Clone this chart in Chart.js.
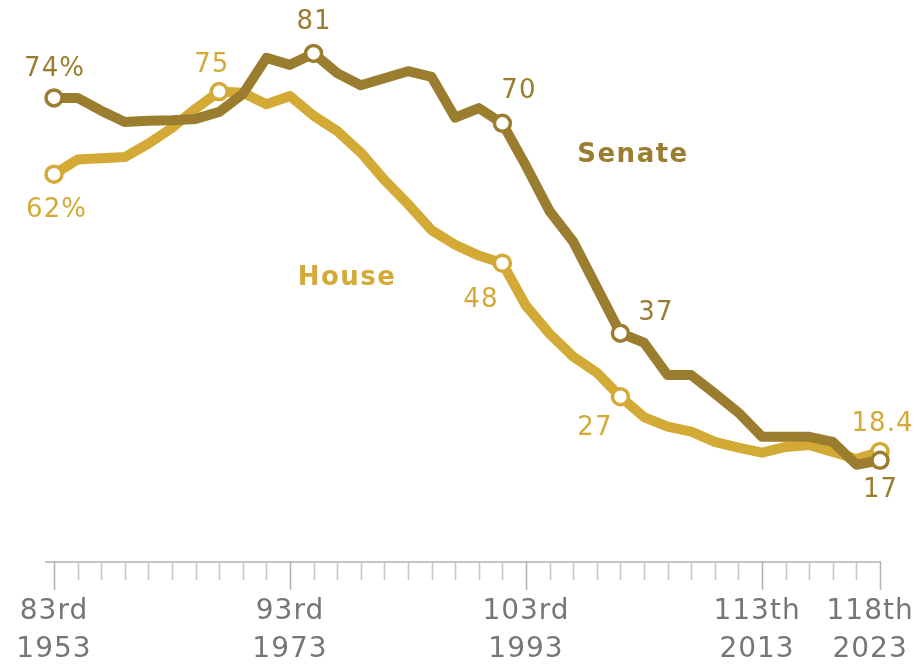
<!DOCTYPE html>
<html>
<head>
<meta charset="utf-8">
<script src="https://cdn.jsdelivr.net/npm/chart.js@4"></script>
<style>
  html, body { margin: 0; padding: 0; background: #ffffff; }
  #wrap { width: 920px; height: 664px; }
</style>
</head>
<body>
<div id="wrap"><canvas id="c" width="920" height="664"></canvas></div>
<script>
// Congress (category) labels and their starting years
const congresses = ['83rd','84th','85th','86th','87th','88th','89th','90th','91st','92nd',
  '93rd','94th','95th','96th','97th','98th','99th','100th','101st','102nd',
  '103rd','104th','105th','106th','107th','108th','109th','110th','111th','112th',
  '113th','114th','115th','116th','117th','118th'];
const years = [1953,1955,1957,1959,1961,1963,1965,1967,1969,1971,
  1973,1975,1977,1979,1981,1983,1985,1987,1989,1991,
  1993,1995,1997,1999,2001,2003,2005,2007,2009,2011,
  2013,2015,2017,2019,2021,2023];

// Series values (%)
const senate = [74, 74, 72, 70.2, 70.4, 70.5, 70.7, 71.8, 74.6, 80.3,
  79.2, 81, 77.9, 76, 77.1, 78.2, 77.3, 70.9, 72.4, 70,
  63.3, 56.2, 51.4, 44.2, 37, 35.5, 30.4, 30.4, 27.5, 24.5,
  20.7, 20.7, 20.7, 19.9, 16.3, 17];
const house = [62, 64.3, 64.5, 64.7, 66.8, 69.3, 72.3, 75, 74.8, 73,
  74.3, 71.2, 68.8, 65.4, 61.1, 57.3, 53.2, 50.9, 49.2, 48,
  41.3, 36.9, 33.3, 30.8, 27, 23.8, 22.3, 21.5, 19.9, 19,
  18.2, 19.1, 19.4, 18.3, 17.2, 18.4];

// Which categories carry an axis label
const labeledTicks = [0, 10, 20, 30, 35];
// Which points are marked and annotated
const senateMarked = [0, 11, 19, 24, 35];
const houseMarked = [0, 7, 19, 24, 35];

const SENATE_COLOR = '#9b7d2f';
const HOUSE_COLOR = '#d4aa36';
const FONT = "'DejaVu Sans', sans-serif";

// label placement relative to point (styling only)
const senateLabelOffsets = {0: [0, -29, '%'], 11: [0, -31, ''], 19: [16, -32, ''], 24: [35, -20, ''], 35: [0, 30, '']};
const houseLabelOffsets = {0: [2, 36, '%'], 7: [-8, -26, ''], 19: [-22, 37, ''], 24: [-26, 32, ''], 35: [2, -27, '']};
// small leftward nudges of crowded axis labels (trailing spaces)
const tickPad = {30: ' ', 35: '  '};

const spacingPlugin = {
  id: 'spacing',
  beforeDraw(chart) { chart.ctx.letterSpacing = '1px'; }
};

const decorPlugin = {
  id: 'decor',
  afterDraw(chart) {
    const ctx = chart.ctx;
    const xs = chart.scales.x;
    const area = chart.chartArea;
    ctx.save();
    // axis line
    ctx.strokeStyle = '#c4c4c4';
    ctx.lineWidth = 2;
    ctx.beginPath();
    ctx.moveTo(area.left - 9, area.bottom);
    ctx.lineTo(area.right + 1, area.bottom);
    ctx.stroke();
    // tick marks
    ctx.lineWidth = 1.6;
    for (let i = 0; i < congresses.length; i++) {
      const x = Math.round(xs.getPixelForValue(i)) + 0.5;
      const major = labeledTicks.includes(i);
      ctx.strokeStyle = major ? '#b5b5b5' : '#c8c8c8';
      ctx.beginPath();
      ctx.moveTo(x, area.bottom);
      ctx.lineTo(x, area.bottom + (major ? 28 : 18));
      ctx.stroke();
    }
    ctx.restore();

    // value labels
    const drawLabels = (dsIndex, values, offsets, color) => {
      const meta = chart.getDatasetMeta(dsIndex);
      ctx.save();
      ctx.font = '26px ' + FONT;
      ctx.letterSpacing = '1px';
      ctx.fillStyle = color;
      ctx.textAlign = 'center';
      ctx.textBaseline = 'middle';
      Object.keys(offsets).forEach(k => {
        const i = +k;
        const pt = meta.data[i];
        const [dx, dy, suffix] = offsets[k];
        ctx.fillText(String(values[i]) + suffix, pt.x + dx + 0.5, pt.y + dy);
      });
      ctx.restore();
    };
    drawLabels(0, senate, senateLabelOffsets, SENATE_COLOR);
    drawLabels(1, house, houseLabelOffsets, HOUSE_COLOR);

    // series names
    ctx.save();
    ctx.font = 'bold 26px ' + FONT;
    ctx.letterSpacing = '1.5px';
    ctx.textAlign = 'center';
    ctx.textBaseline = 'middle';
    ctx.fillStyle = SENATE_COLOR;
    ctx.fillText('Senate', 633, 155);
    ctx.fillStyle = HOUSE_COLOR;
    ctx.fillText('House', 347, 278);
    ctx.restore();
  }
};

new Chart(document.getElementById('c'), {
  type: 'line',
  data: {
    labels: congresses,
    datasets: [
      {
        label: 'Senate',
        data: senate,
        borderColor: SENATE_COLOR,
        borderWidth: 10,
        borderJoinStyle: 'round',
        tension: 0,
        pointRadius: ctx => senateMarked.includes(ctx.dataIndex) ? 8 : 0,
        pointHoverRadius: ctx => senateMarked.includes(ctx.dataIndex) ? 8 : 0,
        pointBackgroundColor: '#ffffff',
        pointBorderColor: SENATE_COLOR,
        pointBorderWidth: 3.5
      },
      {
        label: 'House',
        data: house,
        borderColor: HOUSE_COLOR,
        borderWidth: 10,
        borderJoinStyle: 'round',
        tension: 0,
        pointRadius: ctx => houseMarked.includes(ctx.dataIndex) ? 8 : 0,
        pointHoverRadius: ctx => houseMarked.includes(ctx.dataIndex) ? 8 : 0,
        pointBackgroundColor: '#ffffff',
        pointBorderColor: HOUSE_COLOR,
        pointBorderWidth: 3.5
      }
    ]
  },
  options: {
    responsive: false,
    animation: false,
    devicePixelRatio: 1,
    layout: { padding: { left: 54, right: 40, top: 28, bottom: 0 } },
    plugins: { legend: { display: false }, tooltip: { enabled: false } },
    scales: {
      y: { display: false, min: 1, max: 85 },
      x: {
        offset: false,
        border: { display: false },
        grid: { display: false, drawTicks: false, tickLength: 0 },
        ticks: {
          autoSkip: false,
          maxRotation: 0,
          minRotation: 0,
          padding: 31,
          color: '#767676',
          font: { family: FONT, size: 28, lineHeight: 1.34 },
          callback: (val, idx) => labeledTicks.includes(idx)
            ? [congresses[idx] + (tickPad[idx] || ''), String(years[idx]) + (tickPad[idx] || '')]
            : ''
        },
        afterFit(scale) {
          scale.height = 102;
          scale.paddingLeft = 0;
          scale.paddingRight = 0;
        }
      }
    }
  },
  plugins: [spacingPlugin, decorPlugin]
});
</script>
</body>
</html>
